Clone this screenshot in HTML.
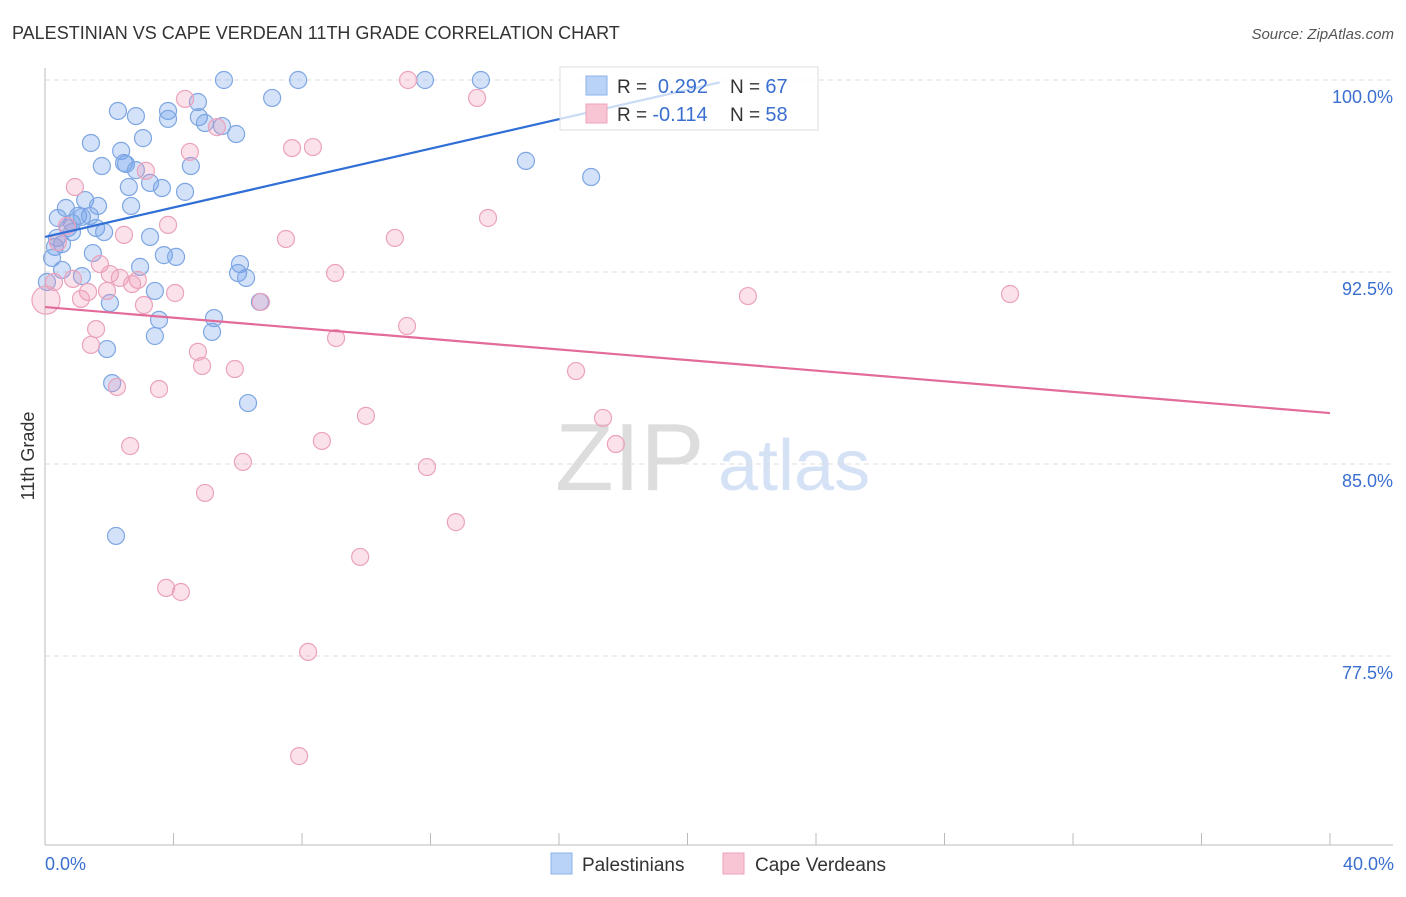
<!DOCTYPE html>
<html><head><meta charset="utf-8">
<style>
body{margin:0;background:#fff;font-family:"Liberation Sans",sans-serif;}
svg text{font-family:"Liberation Sans",sans-serif;}
</style></head>
<body>
<svg id="chart" width="1406" height="892" viewBox="0 0 1406 892">
<text x="12" y="39" font-size="18" fill="#333">PALESTINIAN VS CAPE VERDEAN 11TH GRADE CORRELATION CHART</text>
<text x="1394" y="39" font-size="15" fill="#555" font-style="italic" text-anchor="end">Source: ZipAtlas.com</text>
<text x="555" y="490" font-size="96" fill="#ddd" font-family="Liberation Serif,serif">ZIP</text>
<text x="718" y="490" font-size="72" fill="#d5e2f5">atlas</text>
<g id="grid"></g>
<g id="axes"></g>
<g id="pts"></g>
<g id="trend"></g>
<text x="34" y="456" font-size="18" fill="#333" text-anchor="middle" transform="rotate(-90 34 456)">11th Grade</text>
<text x="45" y="870" font-size="18" fill="#3a6fd0">0.0%</text>
<text x="1394" y="870" font-size="18" fill="#3a6fd0" text-anchor="end">40.0%</text>
<g>
<rect x="560" y="67" width="258" height="63" fill="rgba(255,255,255,0.75)" stroke="#ddd"/>
<rect x="586" y="76" width="21" height="19" fill="#b9d3f7" stroke="#8cb2ea"/>
<rect x="586" y="104" width="21" height="19" fill="#f8c5d5" stroke="#eea3bc"/>
<text x="617" y="93" font-size="19" fill="#333">R = <tspan fill="#3a6fd0" font-size="20">&#160;0.292</tspan></text>
<text x="730" y="93" font-size="19" fill="#333">N = <tspan fill="#3a6fd0" font-size="20">67</tspan></text>
<text x="617" y="121" font-size="19" fill="#333">R = <tspan fill="#3a6fd0" font-size="20">-0.114</tspan></text>
<text x="730" y="121" font-size="19" fill="#333">N = <tspan fill="#3a6fd0" font-size="20">58</tspan></text>
</g>
<g>
<rect x="551" y="853" width="21" height="21" fill="#b9d3f7" stroke="#8cb2ea"/>
<text x="582" y="871" font-size="19" fill="#333">Palestinians</text>
<rect x="723" y="853" width="21" height="21" fill="#f8c5d5" stroke="#eea3bc"/>
<text x="755" y="871" font-size="19" fill="#333">Cape Verdeans</text>
</g>
</svg>
<script>
const yTicks=[100,92.5,85,77.5];
const yTickLabels=["100.0%","92.5%","85.0%","77.5%"];
const blueX=[5.57,7.88,11.83,13.57,2.27,2.83,3.83,4.76,7.07,3.83,4.79,5.51,5.95,4.98,3.05,1.43,2.37,2.46,1.77,2.52,2.83,3.27,2.61,3.64,4.36,4.54,14.97,17.0,1.25,1.65,2.68,0.65,0.40,1.03,1.40,1.15,0.84,0.72,1.59,1.84,0.37,0.84,0.31,0.53,3.27,1.49,3.70,4.08,0.22,2.96,6.07,0.53,1.15,6.01,6.26,0.06,3.42,2.02,6.69,3.55,5.26,5.20,3.42,1.93,2.09,6.32,2.21];
const blueY=[100,100,100,100,98.79,98.59,98.79,99.14,99.30,98.48,98.55,98.20,97.89,98.32,97.73,97.54,97.23,96.76,96.64,96.72,96.48,95.98,95.82,95.78,95.63,96.64,96.84,96.21,95.31,95.08,95.08,95.0,94.61,94.69,94.69,94.65,94.41,94.22,94.22,94.06,93.83,94.06,93.48,93.59,93.87,93.24,93.16,93.09,93.05,92.70,92.81,92.58,92.34,92.46,92.27,92.11,91.76,91.29,91.33,90.63,90.70,90.16,90.0,89.49,88.16,87.38,82.19];
const pinkX=[11.30,13.45,4.36,5.35,7.69,8.34,4.51,3.14,0.93,13.79,3.83,2.46,7.50,10.89,0.40,0.68,1.71,2.02,2.33,2.89,9.03,0.28,0.87,1.34,1.12,1.93,2.71,4.05,3.08,6.72,21.88,30.04,11.27,1.59,9.06,1.43,4.76,4.89,5.91,16.53,2.24,3.55,9.99,17.37,17.77,2.65,8.62,6.16,11.89,4.98,12.79,9.81,3.77,4.23,8.19,7.91,0.03];
const pinkY=[100,99.30,99.26,98.16,97.34,97.38,97.19,96.45,95.82,94.61,94.34,93.95,93.79,93.83,93.67,94.30,92.81,92.42,92.27,92.19,92.46,92.11,92.23,91.72,91.45,91.76,92.03,91.68,91.21,91.33,91.56,91.64,90.39,90.27,89.92,89.65,89.38,88.83,88.71,88.63,88.01,87.93,86.88,86.80,85.78,85.70,85.90,85.08,84.88,83.87,82.73,81.37,80.16,80.0,77.66,73.59,91.4];
const blueTrend=[93.87,0.2875,21.0]; // intercept, slope, end x
const pinkTrend=[91.13,-0.1035,40];
const NS="http://www.w3.org/2000/svg";
const xS=v=>45+v*32.125, yS=v=>80+(100-v)*25.6;
function mk(tag,attrs,parent){const e=document.createElementNS(NS,tag);for(const k in attrs)e.setAttribute(k,attrs[k]);parent.appendChild(e);return e;}
const grid=document.getElementById('grid'),axes=document.getElementById('axes'),pts=document.getElementById('pts'),trend=document.getElementById('trend');
yTicks.forEach((t,i)=>{
 const l=mk('line',{x1:45,x2:1393,y1:yS(t),y2:yS(t),stroke:'#ddd','stroke-dasharray':'5,4'},grid);
 
 
 const tx=mk('text',{x:1393,y:yS(t)+23,'font-size':18,fill:'#3a6fd0','text-anchor':'end'},grid);
 tx.textContent=yTickLabels[i];
 
 
});
const la=mk('line',{x1:45,x2:45,y1:68,y2:845,stroke:'#bbb'},axes);


const lb=mk('line',{x1:45,x2:1393,y1:845,y2:845,stroke:'#bbb'},axes);


for(let i=0;i<=10;i++){
 const t=mk('line',{x1:xS(i*4),x2:xS(i*4),y1:833,y2:845,stroke:'#bbb'},axes);
 
 
}
function dots(xs,ys,fill,stroke,name){
 xs.forEach((x,i)=>{
  const big=(name==='pink-point'&&i===xs.length-1);
  const c=mk('circle',{cx:xS(x),cy:yS(ys[i]),r:big?14:8.5,fill:fill,stroke:stroke,'stroke-width':1.2},pts);
  
  
 });
}
dots(blueX,blueY,'rgba(110,160,235,0.3)','#7ea6e2','blue-point');
dots(pinkX,pinkY,'rgba(240,150,180,0.28)','#eba2bc','pink-point');
const bt=mk('line',{x1:xS(0),y1:yS(blueTrend[0]),x2:xS(blueTrend[2]),y2:yS(blueTrend[0]+blueTrend[1]*blueTrend[2]),stroke:'#2f6fd6','stroke-width':2.2},trend);


const pt=mk('line',{x1:xS(0),y1:yS(pinkTrend[0]),x2:xS(pinkTrend[2]),y2:yS(pinkTrend[0]+pinkTrend[1]*pinkTrend[2]),stroke:'#e26b9a','stroke-width':2.2},trend);


</script>
</body></html>
